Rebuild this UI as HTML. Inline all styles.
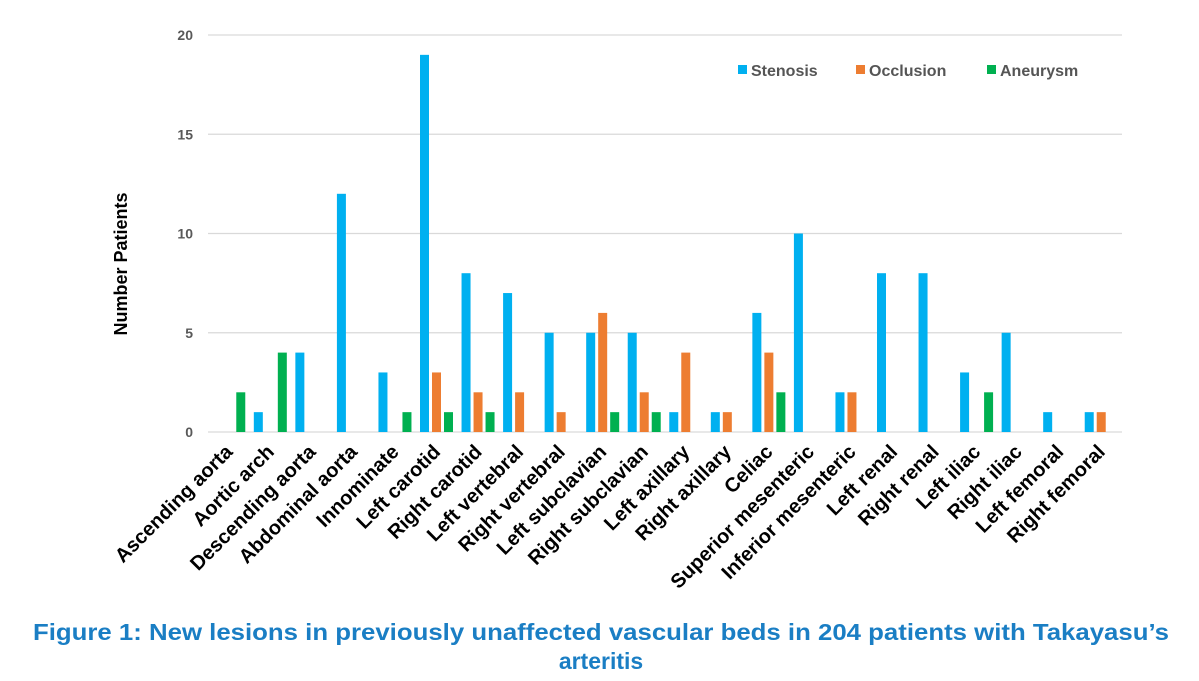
<!DOCTYPE html>
<html><head><meta charset="utf-8"><style>
body{margin:0;background:#fff;width:1199px;height:676px;overflow:hidden;font-family:"Liberation Sans",Arial,sans-serif}
</style></head><body>
<svg width="1199" height="676" xmlns="http://www.w3.org/2000/svg">
<g id="grid"></g>
<g id="yt"></g>
<g id="bars"></g>
<g id="xl"></g>
<text transform="translate(127,264) rotate(-90)" text-anchor="middle" font-size="18" font-weight="bold" fill="#000">Number Patients</text>
<g font-size="16" font-weight="bold" fill="#555">
<g><rect x="738" y="65" width="9" height="9" fill="#00b0f0"/><text x="751" y="76">Stenosis</text></g>
<g><rect x="856" y="65" width="9" height="9" fill="#ed7d31"/><text x="869" y="76">Occlusion</text></g>
<g><rect x="987" y="65" width="9" height="9" fill="#00b050"/><text x="1000" y="76">Aneurysm</text></g>
</g>
<text x="601" y="640" text-anchor="middle" font-size="23" font-weight="bold" fill="#1a7ec4" textLength="1136" lengthAdjust="spacingAndGlyphs">Figure 1: New lesions in previously unaffected vascular beds in 204 patients with Takayasu’s</text>
<text x="601" y="669" text-anchor="middle" font-size="23" font-weight="bold" fill="#1a7ec4">arteritis</text>
</svg>
<script>
const categories=["Ascending aorta","Aortic arch","Descending aorta","Abdominal aorta","Innominate","Left carotid","Right carotid","Left vertebral","Right vertebral","Left subclavian","Right subclavian","Left axillary","Right axillary","Celiac","Superior mesenteric","Inferior mesenteric","Left renal","Right renal","Left iliac","Right iliac","Left femoral","Right femoral"];
const stenosis=[0,1,4,12,3,19,8,7,5,5,5,1,1,6,10,2,8,8,3,5,1,1];
const occlusion=[0,0,0,0,0,3,2,2,1,6,2,4,1,4,0,2,0,0,0,0,0,1];
const aneurysm=[2,4,0,0,1,1,1,0,0,1,1,0,0,2,0,0,0,0,2,0,0,0];
const yTicks=[0,5,10,15,20];
const NS="http://www.w3.org/2000/svg";
const X0=208,X1=1122,Y0=432,Y1=35,YMAX=20;
const bw=(X1-X0)/categories.length;
function y(v){return Y0-(v/YMAX)*(Y0-Y1);}
function xc(i){return X0+bw*(i+0.5);}
function mk(tag,attrs,parent){const e=document.createElementNS(NS,tag);for(const k in attrs)e.setAttribute(k,attrs[k]);parent.appendChild(e);return e;}
const grid=document.getElementById('grid'),yt=document.getElementById('yt'),bars=document.getElementById('bars'),xl=document.getElementById('xl');
yTicks.forEach(t=>{
  const l=mk('line',{x1:X0,x2:X1,y1:y(t),y2:y(t),stroke:'#d9d9d9','stroke-width':1.3},grid);
  
  
  const tx=mk('text',{x:193,y:y(t)+5,'text-anchor':'end','font-size':14,'font-weight':'bold',fill:'#595959'},yt);
  tx.textContent=t;
  
  
});
const series=[[stenosis,'#00b0f0','stenosis'],[occlusion,'#ed7d31','occlusion'],[aneurysm,'#00b050','aneurysm']];
categories.forEach((c,i)=>{
  series.forEach((s,j)=>{
    const v=s[0][i];
    if(v<=0)return;
    const cx=xc(i)+(j-1)*12;
    const r=mk('rect',{x:cx-4.5,y:y(v),width:9,height:Y0-y(v),fill:s[1]},bars);
    
    
  });
  const t=mk('text',{transform:`translate(${xc(i)+5},${453}) rotate(-45)`,'text-anchor':'end','font-size':20,'font-weight':'bold',fill:'#000'},xl);
  t.textContent=c;
  
  
});
</script>
</body></html>
